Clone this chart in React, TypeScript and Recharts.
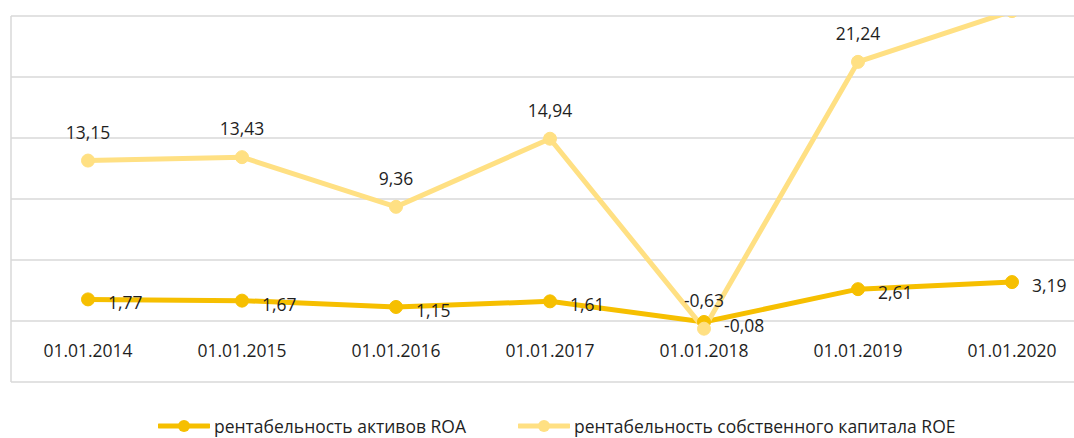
import React from 'react';
import { LineChart, Line, XAxis, YAxis, CartesianGrid, LabelList, Legend } from 'recharts';

const categories = ['01.01.2014', '01.01.2015', '01.01.2016', '01.01.2017', '01.01.2018', '01.01.2019', '01.01.2020'];
const roaValues = [1.77, 1.67, 1.15, 1.61, -0.08, 2.61, 3.19];
const roeValues = [13.15, 13.43, 9.36, 14.94, -0.63, 21.24, 25.4];
const yTicks = [-5, 0, 5, 10, 15, 20, 25];

const ROA_NAME = 'рентабельность активов ROA';
const ROE_NAME = 'рентабельность собственного капитала ROE';
const ROA_COLOR = '#F6BF00';
const ROE_COLOR = '#FFE083';
const FONT = '"Open Sans", sans-serif';

const data = categories.map((c, i) => ({ date: c, roa: roaValues[i], roe: roeValues[i] }));

const fmt = (v: number) => v.toFixed(2).replace('.', ',');

const XTick = (props: any) => {
  const { x, y, payload } = props;
  return (
    <text x={x} y={y - 32} textAnchor="middle" dominantBaseline="central" fill="#1f1f1f" fontSize={17.5} fontFamily={FONT}>
      {payload.value}
    </text>
  );
};

const EmptyTick = () => <g />;

const RoaLabel = (props: any) => {
  const { x, y, value } = props;
  return (
    <text x={x + 20} y={y + 3} textAnchor="start" dominantBaseline="central" fill="#1f1f1f" fontSize={17.5} fontFamily={FONT}>
      {fmt(value)}
    </text>
  );
};

const RoeLabel = (props: any) => {
  const { x, y, value } = props;
  if (value > 25) return null;
  return (
    <text x={x} y={y - 29} textAnchor="middle" dominantBaseline="central" fill="#1f1f1f" fontSize={17.5} fontFamily={FONT}>
      {fmt(value)}
    </text>
  );
};

const LegendContent = () => {
  const items = [
    { name: ROA_NAME, color: ROA_COLOR, gap: 52 },
    { name: ROE_NAME, color: ROE_COLOR, gap: 0 },
  ];
  return (
    <div style={{ display: 'flex', alignItems: 'center', fontFamily: FONT, fontSize: 17.5, lineHeight: '20px', color: '#1f1f1f', whiteSpace: 'nowrap' }}>
      {items.map((it) => (
        <div key={it.name} style={{ display: 'flex', alignItems: 'center', marginRight: it.gap }}>
          <svg width={52} height={14} style={{ marginRight: 4 }}>
            <line x1={1} y1={7} x2={51} y2={7} stroke={it.color} strokeWidth={5} strokeLinecap="round" />
            <circle cx={26} cy={7} r={6} fill={it.color} />
          </svg>
          <span>{it.name}</span>
        </div>
      ))}
    </div>
  );
};

export default function App() {
  return (
    <div style={{ position: 'absolute', left: 0, top: 0, width: 1074, height: 438, overflow: 'hidden', background: '#fff' }}>
      <LineChart width={1090} height={438} data={data} margin={{ top: 16, right: 1, left: 9, bottom: 55 }}>
        <CartesianGrid vertical={false} stroke="#d9d9d9" strokeWidth={1.5} />
        <XAxis
          dataKey="date"
          height={1}
          axisLine={false}
          tickLine={false}
          tickSize={0}
          tickMargin={0}
          interval={0}
          padding={{ left: 77, right: 77 }}
          tick={<XTick />}
        />
        <YAxis
          width={2}
          domain={[-5, 25]}
          ticks={yTicks}
          interval={0}
          allowDataOverflow
          tick={<EmptyTick />}
          tickLine={false}
          axisLine={{ stroke: '#d9d9d9', strokeWidth: 1.5 }}
        />
        <Legend
          layout="horizontal"
          verticalAlign="middle"
          align="center"
          content={<LegendContent />}
          wrapperStyle={{ position: 'absolute', left: 158, top: 416, width: 'auto' }}
        />
        <Line
          dataKey="roa"
          name={ROA_NAME}
          stroke={ROA_COLOR}
          strokeWidth={5}
          dot={{ r: 6.5, fill: ROA_COLOR, stroke: ROA_COLOR, strokeWidth: 1 }}
          activeDot={false}
          isAnimationActive={false}
        >
          <LabelList dataKey="roa" content={<RoaLabel />} />
        </Line>
        <Line
          dataKey="roe"
          name={ROE_NAME}
          stroke={ROE_COLOR}
          strokeWidth={5}
          dot={{ r: 6.5, fill: ROE_COLOR, stroke: ROE_COLOR, strokeWidth: 1 }}
          activeDot={false}
          isAnimationActive={false}
        >
          <LabelList dataKey="roe" content={<RoeLabel />} />
        </Line>
      </LineChart>
    </div>
  );
}
